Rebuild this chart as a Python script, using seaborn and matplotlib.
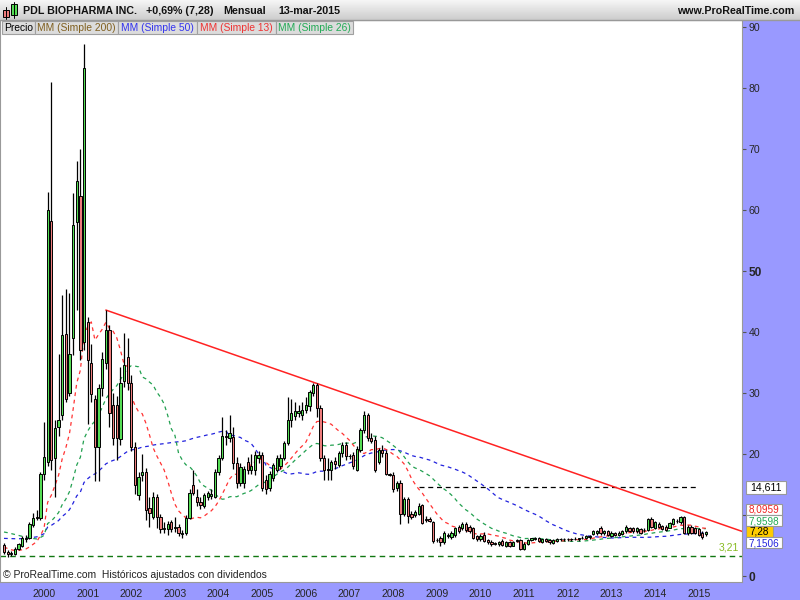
import numpy as np
import pandas as pd
import seaborn as sns
import matplotlib.pyplot as plt
from matplotlib.patches import Rectangle

# MONTHLY CANDLES, FEB 1999 -> MAR 2015
opens = [
    5.1, 4.0, 3.6, 3.6, 4.5, 5.0, 6.3, 6.2, 8.4, 9.6, 9.5,
    16.7, 18.7, 58.2, 19.3, 24.5, 26.4, 39.7, 30.0, 39.0, 58.1, 62.3, 38.4,
    41.7, 35.0, 29.1, 21.2, 30.9, 34.9, 40.4, 28.0, 28.0, 22.4, 31.9, 35.9,
    31.6, 21.2, 13.3, 16.6, 17.1, 11.1, 9.7, 12.9, 9.6, 7.7, 7.7, 8.8,
    7.9, 8.1, 6.9, 7.0, 9.5, 14.9, 13.0, 12.2, 11.5, 13.0, 13.1, 13.0,
    17.1, 19.3, 22.9, 22.6, 22.8, 18.6, 15.3, 15.2, 18.7, 17.4, 17.4, 19.4,
    19.8, 15.7, 14.4, 16.0, 17.4, 18.0, 19.3, 21.8, 25.6, 26.3, 26.8, 26.4,
    27.2, 27.8, 30.0, 31.3, 27.5, 19.3, 17.6, 17.4, 18.8, 18.2, 20.1, 21.5,
    19.7, 19.8, 17.4, 20.7, 23.9, 26.4, 22.6, 22.3, 18.7, 20.7, 20.2, 16.7,
    16.6, 14.4, 15.2, 10.2, 12.6, 10.2, 10.0, 10.2, 11.6, 9.3, 9.3, 8.9,
    5.9, 6.2, 5.5, 6.5, 6.4, 6.7, 8.0, 7.8, 8.6, 8.0, 7.8, 6.6,
    6.0, 6.8, 5.9, 5.6, 5.4, 5.2, 5.8, 5.0, 5.5, 5.0, 5.9, 5.9,
    4.5, 5.3, 5.9, 6.1, 6.2, 5.6, 6.0, 5.9, 5.4, 5.8, 6.0, 6.0,
    6.0, 6.0, 6.1, 6.0, 6.2, 6.3, 6.4, 6.9, 7.0, 7.8, 7.0, 7.4,
    6.6, 7.0, 6.7, 6.9, 7.3, 7.9, 7.8, 7.3, 7.7, 7.5, 7.6, 9.3,
    7.9, 8.6, 8.2, 8.1, 7.9, 8.6, 9.0, 8.8, 9.7, 7.0, 8.1, 7.8,
    7.7, 7.1, 6.9,
]
highs = [
    5.4, 4.3, 4.1, 4.7, 5.4, 6.6, 6.8, 8.8, 10.4, 10.8, 17.0,
    25.3, 62.9, 81.0, 25.6, 36.4, 46.0, 47.0, 46.4, 62.8, 68.0, 70.0, 87.2,
    42.5, 38.0, 29.7, 31.5, 36.8, 43.6, 41.1, 30.0, 29.5, 34.3, 39.9, 39.0,
    33.0, 22.0, 17.0, 20.0, 17.7, 13.0, 13.8, 13.5, 10.2, 8.8, 9.0, 9.2,
    9.6, 8.5, 7.6, 10.0, 14.2, 17.4, 14.3, 13.0, 13.6, 14.0, 14.2, 17.5,
    19.8, 26.1, 24.0, 26.4, 24.5, 19.5, 18.5, 18.0, 19.5, 20.0, 20.5, 20.5,
    20.3, 16.5, 17.2, 18.6, 19.8, 20.0, 22.2, 29.4, 29.0, 28.5, 28.0, 28.6,
    29.3, 30.5, 31.6, 31.7, 28.0, 19.8, 19.3, 19.0, 19.5, 20.5, 22.0, 22.0,
    20.0, 20.3, 21.3, 24.2, 27.0, 26.8, 23.5, 23.0, 21.0, 21.5, 20.7, 16.9,
    17.0, 15.6, 15.8, 12.9, 13.0, 10.6, 10.8, 11.9, 11.8, 9.8, 9.7, 9.1,
    6.3, 6.5, 7.3, 7.0, 7.4, 8.1, 8.3, 8.9, 8.9, 8.3, 8.0, 6.8,
    6.9, 7.2, 6.1, 5.9, 5.6, 5.8, 6.0, 5.7, 5.7, 5.8, 6.1, 6.0,
    5.5, 6.0, 6.3, 6.4, 6.4, 6.1, 6.2, 6.1, 6.1, 6.3, 6.3, 6.3,
    6.2, 6.3, 6.4, 6.3, 6.5, 6.7, 6.8, 7.6, 7.5, 8.2, 7.6, 7.6,
    7.3, 7.2, 7.3, 7.6, 8.3, 8.1, 8.0, 8.0, 7.9, 7.8, 9.5, 9.7,
    9.0, 8.8, 8.4, 8.3, 8.9, 9.5, 9.4, 9.8, 9.9, 8.3, 8.3, 8.0,
    7.9, 7.3, 7.4,
]
lows = [
    3.6, 3.2, 3.3, 3.5, 4.3, 4.8, 5.6, 6.0, 8.1, 9.2, 9.2,
    15.7, 18.0, 17.4, 13.0, 23.0, 25.5, 28.6, 29.5, 36.2, 43.6, 35.4, 37.0,
    25.0, 28.5, 15.5, 15.5, 29.5, 34.0, 24.5, 21.5, 19.0, 21.5, 31.0, 30.5,
    20.5, 13.5, 12.5, 15.5, 9.2, 8.1, 9.3, 7.8, 7.0, 7.0, 6.8, 7.2,
    7.2, 6.6, 6.3, 6.8, 9.3, 13.3, 11.5, 11.0, 11.2, 12.5, 12.6, 12.8,
    16.5, 19.0, 21.5, 22.0, 17.5, 14.5, 14.8, 14.5, 16.8, 16.8, 16.5, 18.5,
    14.0, 13.5, 14.0, 15.5, 17.0, 17.5, 19.0, 21.5, 24.5, 25.5, 26.0, 25.5,
    26.8, 27.0, 29.5, 26.0, 18.8, 15.7, 15.7, 15.7, 17.5, 17.8, 19.5, 19.0,
    19.2, 17.5, 17.2, 20.3, 23.5, 22.2, 21.8, 17.0, 18.3, 19.5, 16.5, 16.4,
    13.8, 14.0, 8.6, 9.9, 8.7, 9.4, 9.6, 10.0, 8.6, 8.9, 8.8, 5.4,
    5.6, 5.0, 5.3, 6.2, 6.1, 6.4, 7.1, 7.5, 7.2, 7.1, 6.0, 5.8,
    5.8, 5.6, 5.3, 5.0, 5.1, 5.0, 4.9, 4.8, 4.8, 4.9, 5.6, 4.3,
    4.3, 5.1, 5.7, 5.9, 5.6, 5.4, 5.5, 5.3, 5.2, 5.6, 5.8, 5.8,
    5.8, 5.8, 5.9, 5.8, 6.0, 6.0, 6.1, 6.7, 6.8, 6.8, 6.8, 6.6,
    6.4, 6.5, 6.5, 6.7, 7.1, 7.2, 7.1, 7.1, 6.9, 7.2, 7.4, 7.8,
    7.7, 7.8, 7.5, 7.4, 7.8, 8.3, 8.7, 8.6, 6.9, 6.8, 6.9, 6.9,
    6.5, 6.1, 6.6,
]
closes = [
    4.0, 3.6, 3.7, 4.5, 5.2, 6.3, 6.1, 8.5, 9.5, 9.5, 16.7,
    19.5, 60.0, 19.0, 24.2, 25.6, 39.5, 29.0, 36.4, 57.6, 64.8, 37.0, 83.2,
    35.4, 29.9, 21.2, 30.8, 35.5, 40.4, 26.7, 22.6, 22.6, 31.6, 34.6, 31.6,
    21.2, 14.9, 16.3, 17.1, 10.8, 10.3, 12.9, 9.7, 7.7, 7.8, 8.6, 7.7,
    8.0, 7.0, 7.0, 9.5, 13.6, 13.6, 12.2, 11.6, 13.3, 13.6, 13.4, 17.1,
    19.4, 23.0, 22.8, 23.5, 18.6, 15.3, 17.9, 17.5, 17.4, 18.0, 19.8, 19.8,
    14.4, 14.2, 16.8, 18.2, 19.3, 19.3, 21.8, 25.6, 26.7, 27.0, 27.0, 27.2,
    28.0, 30.2, 31.3, 27.5, 19.3, 17.4, 17.4, 18.7, 18.4, 20.1, 21.5, 19.7,
    19.6, 18.0, 20.9, 23.9, 26.4, 22.6, 22.2, 17.4, 20.7, 20.2, 16.8, 16.6,
    14.2, 15.2, 10.2, 12.6, 9.8, 9.7, 10.5, 11.5, 8.7, 9.2, 9.1, 5.8,
    5.9, 5.5, 7.0, 6.8, 7.1, 7.8, 7.4, 8.6, 7.5, 7.4, 6.2, 6.0,
    6.6, 5.8, 5.5, 5.2, 5.3, 5.6, 5.1, 5.5, 5.0, 5.6, 5.8, 4.5,
    5.3, 5.9, 6.2, 6.2, 5.8, 6.0, 5.7, 5.5, 5.9, 6.1, 6.0, 6.0,
    6.0, 6.1, 6.0, 6.2, 6.3, 6.5, 6.6, 7.4, 7.3, 7.0, 7.4, 6.8,
    7.0, 6.7, 7.1, 7.4, 8.0, 7.4, 7.3, 7.8, 7.1, 7.5, 9.3, 8.0,
    8.8, 8.0, 7.7, 7.6, 8.7, 9.3, 9.1, 9.6, 7.0, 8.1, 7.1, 7.1,
    6.7, 6.4, 7.28,
]

# closes before the visible window (jan 1995 -> jan 1999), not drawn:
# estimated from where the moving averages start on the chart, only used to warm them up
prior_closes = [
    4.6, 4.9, 5.1, 5.4, 5.2, 4.8, 4.5, 4.7, 5.0, 5.3, 5.6, 5.4,
    5.1, 4.9, 5.3, 5.6, 5.2, 4.8, 4.6, 4.9, 5.0, 5.2, 5.0, 4.8,
    6.5, 7.5, 8.2, 9.0, 9.8, 10.6, 11.4, 12.0, 11.5, 10.8, 10.2, 9.6, 8.4,
    7.2, 6.4, 5.8, 5.2, 4.8, 4.5, 4.2, 3.9, 3.7, 3.9, 4.1, 4.4,
]

years = list(range(2000, 2016))
y_ticks = [0, 10, 20, 30, 40, 50, 60, 70, 80, 90]

# drawing-tool levels / trend line on the chart
support_level = 3.21
resist_level = 14.611
resist_span = [115, 192]          # month index (0 = jan 1999)
trend_x = [29, 204]
trend_y = [43.6, 7.3]

# price boxes on the right scale
box_texts = ["14,611", "8,0959", "7,9598", "7,28", "7,1506"]
box_colors = ["black", "#EE2222", "#22AA55", "black", "#2222DD"]

df = pd.DataFrame({"open": opens, "high": highs, "low": lows, "close": closes})
df["m"] = np.arange(1, len(df) + 1)
full = pd.Series(prior_closes + closes)
n0 = len(prior_closes)
for w in (13, 26, 50):
    df[f"ma{w}"] = full.rolling(w, min_periods=1).mean().iloc[n0:].to_numpy()

sns.set_style("white")
plt.rcParams["font.family"] = ["Liberation Sans", "DejaVu Sans"]

fig = plt.figure(figsize=(8, 6), dpi=100, facecolor="#9999FF")
ax = fig.add_axes([0.0, 18 / 600, 742 / 800, 562 / 600])
ax.set_facecolor("white")

# MOVING AVERAGES
dash = (0, (3, 3))
sns.lineplot(data=df, x="m", y="ma50", ax=ax, color="#2222DD", lw=0.9, linestyle=dash)
sns.lineplot(data=df, x="m", y="ma26", ax=ax, color="#22A050", lw=0.9, linestyle=dash)
sns.lineplot(data=df, x="m", y="ma13", ax=ax, color="#FF3333", lw=0.9, linestyle=dash)

# LEVELS + TREND
ax.axhline(support_level, color="#117711", lw=1.0, ls=(0, (4, 3)))
ax.hlines(resist_level, resist_span[0], resist_span[1], colors="black", lw=0.9, linestyles=(0, (4, 3)))
ax.plot(trend_x, trend_y, color="#FF2222", lw=1.1)

# CANDLES
up = df["close"] >= df["open"]
body_lo = df[["open", "close"]].min(axis=1)
body_h = (df["close"] - df["open"]).abs().clip(lower=0.08)
ax.vlines(df["m"], df["low"], df["high"], color="black", lw=0.9, zorder=3)
ax.bar(df["m"], body_h, bottom=body_lo, width=0.62,
       color=np.where(up, "#55DD55", "#EE7C7C"), edgecolor="black", lw=0.7, zorder=4)

ax.set_xlim(-0.1, 203.9)
ax.set_ylim(-0.98, 91.15)
ax.set_xlabel("")
ax.set_ylabel("")

ax.set_xticks([12 * (y - 1999) for y in years])
ax.set_xticklabels([str(y) for y in years])
ax.yaxis.tick_right()
ax.set_yticks(y_ticks)
# "10" sits under the price boxes on the reference, so it is not shown
ax.set_yticklabels(["" if v == 10 else str(v) for v in y_ticks])
ax.tick_params(axis="x", direction="out", length=3, color="#777777", labelsize=7.6, pad=2)
ax.tick_params(axis="y", direction="out", length=3, color="#555555", labelsize=7.6, pad=2)
for lab in ax.get_yticklabels():
    if lab.get_text() in ("50", "0"):
        lab.set_fontweight("bold")
        lab.set_fontsize(8.6)
for s in ax.spines.values():
    s.set_color("#999999")
    s.set_linewidth(0.8)

ax.text(0.004, 0.013, "© ProRealTime.com  Históricos ajustados con dividendos",
        transform=ax.transAxes, fontsize=7.5, color="#222222", va="center")
ax.text(203, support_level + 0.6, "3,21", color="#88BB22", fontsize=7.5, ha="right", va="bottom")

# OVERLAY (pixel coords) FOR HEADER, LEGEND AND PRICE BOXES
ov = fig.add_axes([0, 0, 1, 1], zorder=10)
ov.patch.set_alpha(0)
grad = np.linspace(0.96, 0.80, 20).reshape(-1, 1)
ov.imshow(grad, extent=(0, 800, 20, 0), aspect="auto", cmap="gray", vmin=0, vmax=1)
ov.plot([0, 800], [20, 20], color="#999999", lw=1)
ov.set_xlim(0, 800)
ov.set_ylim(600, 0)
ov.axis("off")

# little candle icon
ov.plot([6.3, 6.3], [7, 19], color="black", lw=0.7)
ov.add_patch(Rectangle((3.3, 10), 6, 7.3, facecolor="#EE7C7C", edgecolor="black", lw=0.7))
ov.plot([13.8, 13.8], [2, 18], color="black", lw=0.7)
ov.add_patch(Rectangle((11, 4), 5.7, 11, facecolor="#55DD55", edgecolor="black", lw=0.7))

hdr = dict(fontsize=7.7, fontweight="bold", color="#111111", va="center")
ov.text(23, 11.5, "PDL BIOPHARMA INC.", **hdr)
ov.text(146, 11.5, "+0,69% (7,28)", **hdr)
ov.text(223, 11.5, "Mensual", **hdr)
ov.text(278, 11.5, "13-mar-2015", **hdr)
ov.text(794, 11.5, "www.ProRealTime.com", ha="right", **hdr)

legend_items = [("Precio", "black", 2, 35), ("MM (Simple 200)", "#7F5F1F", 35, 118),
                ("MM (Simple 50)", "#3333EE", 118, 197), ("MM (Simple 13)", "#EE3333", 197, 276),
                ("MM (Simple 26)", "#22AA55", 276, 353)]
for txt, col, x0, x1 in legend_items:
    ov.add_patch(Rectangle((x0, 21), x1 - x0, 13, facecolor="#DCDCDC", edgecolor="#A0A0A0", lw=0.8))
    ov.text((x0 + x1) / 2, 27.8, txt, color=col, fontsize=7.4, ha="center", va="center")

# boxes stacked around the last price so their texts do not collide
box_rows = [(487, 40, 13), (509.5, 36, 11), (520.5, 36, 11), (531.5, 27, 11), (542.5, 36, 11)]
for (yc, w, h), txt, col in zip(box_rows, box_texts, box_colors):
    fc = "#FFCC00" if txt == "7,28" else "white"
    ov.add_patch(Rectangle((746, yc - h / 2), w, h, facecolor=fc, edgecolor="#999999", lw=0.8))
    ov.text(746 + w / 2, yc + 0.5, txt, color=col, fontsize=7.2 if h < 12 else 7.6,
            ha="center", va="center")

fig.savefig("out.png", dpi=100, facecolor=fig.get_facecolor())
print("saved out.png")
